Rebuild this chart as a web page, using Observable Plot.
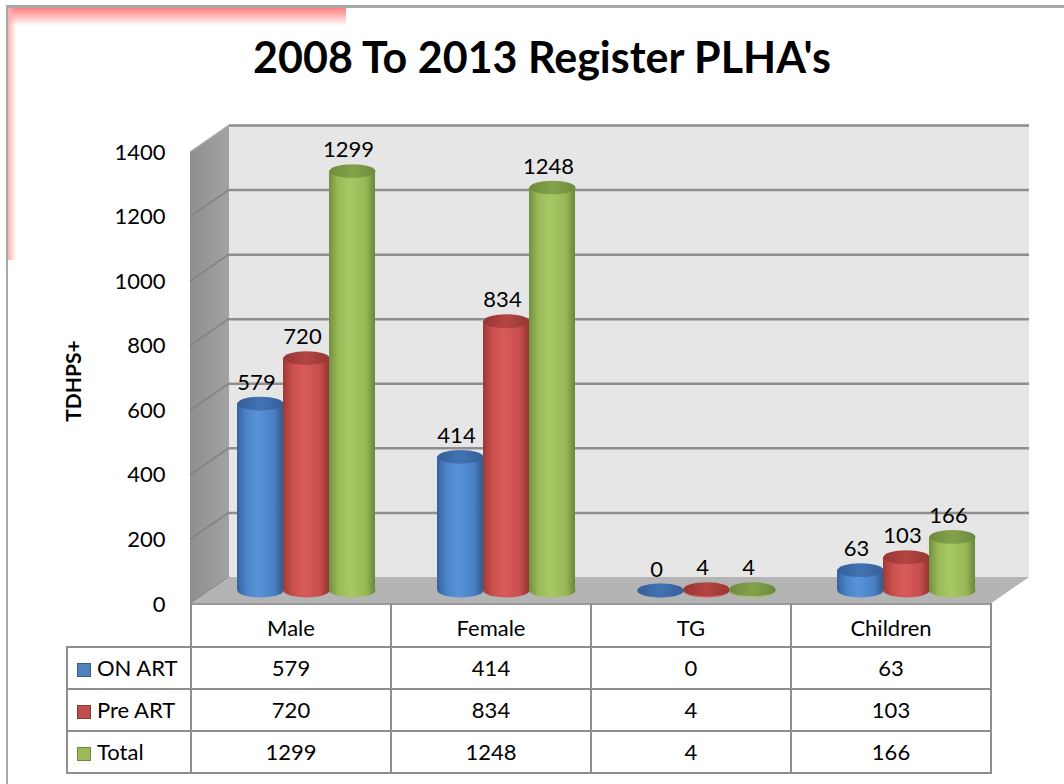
<!DOCTYPE html>
<html>
<head>
<meta charset="utf-8">
<script src="https://cdn.jsdelivr.net/npm/d3@7"></script>
<script src="https://cdn.jsdelivr.net/npm/@observablehq/plot@0.6"></script>
<style>
  html, body { margin: 0; padding: 0; background: #fff; }
  #wrap { position: relative; width: 1064px; height: 784px; overflow: hidden; font-family: Lato, "Open Sans", sans-serif; color: #000; }
  #border { position: absolute; left: 6px; top: 5px; width: 1100px; height: 900px; border-left: 2px solid #a9a9a9; border-top: 3px solid #a9a9a9; }
  #glowTop { position: absolute; left: 8px; top: 8px; width: 338px; height: 18px; background: linear-gradient(to bottom, #ff8080, rgba(255,255,255,0)); }
  #glowLeft { position: absolute; left: 8px; top: 8px; width: 8px; height: 252px; background: linear-gradient(to right, #ffb0b0, rgba(255,255,255,0)); }
  #title { position: absolute; left: 0; width: 1084px; top: 29px; text-align: center; font-weight: bold; font-size: 43px; line-height: 56px; }
  #ytitle { position: absolute; left: 72px; top: 381px; transform: translate(-50%, -50%) rotate(-90deg); font-weight: bold; font-size: 21px; white-space: nowrap; }
  #chart { position: absolute; left: 0; top: 0; }
  #tbl { position: absolute; left: 66px; top: 603px; border-collapse: collapse; table-layout: fixed; font-size: 22px; }
  #tbl td { border: 2px solid #8f8f8f; text-align: center; padding: 0; height: 40px; line-height: 22px; }
  #tbl tr.head td { border-top: none; height: 44px; padding-top: 7px; box-sizing: border-box; }
  #tbl tr.head td.blank { border-left: none; }
  #tbl td.leg { text-align: left; padding-left: 9px; white-space: nowrap; }
  .sw { display: inline-block; width: 12px; height: 12px; border: 1.5px solid; margin-right: 6px; vertical-align: -1px; }
</style>
</head>
<body>
<svg width="0" height="0" style="position:absolute">
  <defs>
    <linearGradient id="bodyBlue" x1="0" x2="1" y1="0" y2="0">
      <stop offset="0" stop-color="#35629e"/><stop offset="0.2" stop-color="#4a82c8"/><stop offset="0.45" stop-color="#5b93d8"/><stop offset="0.8" stop-color="#4a81c6"/><stop offset="1" stop-color="#32598f"/>
    </linearGradient>
    <linearGradient id="bodyRed" x1="0" x2="1" y1="0" y2="0">
      <stop offset="0" stop-color="#9e3936"/><stop offset="0.2" stop-color="#c94f4c"/><stop offset="0.45" stop-color="#d85d5a"/><stop offset="0.8" stop-color="#c84e4b"/><stop offset="1" stop-color="#923432"/>
    </linearGradient>
    <linearGradient id="bodyGreen" x1="0" x2="1" y1="0" y2="0">
      <stop offset="0" stop-color="#748f40"/><stop offset="0.2" stop-color="#98bb57"/><stop offset="0.45" stop-color="#a8c865"/><stop offset="0.8" stop-color="#96b955"/><stop offset="1" stop-color="#6c863b"/>
    </linearGradient>
    <linearGradient id="topBlue" x1="0" x2="1" y1="0" y2="0">
      <stop offset="0" stop-color="#355f98"/><stop offset="0.5" stop-color="#4173b3"/><stop offset="1" stop-color="#355f98"/>
    </linearGradient>
    <linearGradient id="topRed" x1="0" x2="1" y1="0" y2="0">
      <stop offset="0" stop-color="#983633"/><stop offset="0.5" stop-color="#b34543"/><stop offset="1" stop-color="#983633"/>
    </linearGradient>
    <linearGradient id="topGreen" x1="0" x2="1" y1="0" y2="0">
      <stop offset="0" stop-color="#6e8a3d"/><stop offset="0.5" stop-color="#83a34a"/><stop offset="1" stop-color="#6e8a3d"/>
    </linearGradient>
    <linearGradient id="sideGrad" x1="0" x2="1" y1="0" y2="0">
      <stop offset="0" stop-color="#8f8f8f"/><stop offset="1" stop-color="#a2a2a2"/>
    </linearGradient>
  </defs>
</svg>
<div id="wrap">
  <div id="border"></div>
  <div id="glowTop"></div>
  <div id="glowLeft"></div>
  <div id="chart"></div>
  <div id="title"></div>
  <div id="ytitle"></div>
  <table id="tbl"></table>
</div>
<script>
// ---- data ----
const titleText = "2008 To 2013 Register PLHA's";
const yAxisTitle = "TDHPS+";
const categories = ["Male", "Female", "TG", "Children"];
const seriesNames = ["ON ART", "Pre ART", "Total"];
const onArt  = [579, 414, 0, 63];
const preArt = [720, 834, 4, 103];
const total  = [1299, 1248, 4, 166];
const yTicks = [0, 200, 400, 600, 800, 1000, 1200, 1400];

// ---- styling ----
const seriesValues = [onArt, preArt, total];
const bodyFill = ["url(#bodyBlue)", "url(#bodyRed)", "url(#bodyGreen)"];
const topFill = ["url(#topBlue)", "url(#topRed)", "url(#topGreen)"];
const swatch = [["#4f81bd", "#385d8a"], ["#c0504d", "#8c3836"], ["#9bbb59", "#71893f"]];
const barW = 46;
const groupShift = 16;
const barDy = -14;
const DX = 39, DY = -27; // depth of back wall

const rows = [];
seriesNames.forEach((s, i) => categories.forEach((c, j) => rows.push({series: s, si: i, category: c, value: seriesValues[i][j]})));

const ellipse = {
  draw(ctx, size) {
    const rx = Math.sqrt(size / Math.PI), ry = rx * 0.3, k = 0.5523;
    ctx.moveTo(rx, 0);
    ctx.bezierCurveTo(rx, ry * k, rx * k, ry, 0, ry);
    ctx.bezierCurveTo(-rx * k, ry, -rx, ry * k, -rx, 0);
    ctx.bezierCurveTo(-rx, -ry * k, -rx * k, -ry, 0, -ry);
    ctx.bezierCurveTo(rx * k, -ry, rx, -ry * k, rx, 0);
    ctx.closePath();
  }
};

function walls(index, scales, values, dim) {
  const y = scales.y;
  const L = dim.marginLeft, R = dim.width - dim.marginRight;
  const y0 = y(yTicks[0]), yT = y(yTicks[yTicks.length - 1]);
  const g = d3.create("svg:g");
  g.append("rect").attr("x", L + DX).attr("y", yT + DY).attr("width", R - L).attr("height", y0 - yT).attr("fill", "#e6e6e6");
  g.append("polygon").attr("points", [[L, yT], [L + DX, yT + DY], [L + DX, y0 + DY], [L, y0]].join(" ")).attr("fill", "url(#sideGrad)");
  for (const t of yTicks) {
    g.append("line").attr("x1", L).attr("y1", y(t)).attr("x2", L + DX).attr("y2", y(t) + DY)
      .attr("stroke", t === yTicks[yTicks.length - 1] ? "#b0b0b0" : "#828282").attr("stroke-width", 1.5);
  }
  return g.node();
}

function floor(index, scales, values, dim) {
  const y = scales.y;
  const L = dim.marginLeft, R = dim.width - dim.marginRight;
  const y0 = y(yTicks[0]);
  const g = d3.create("svg:g");
  g.append("polygon").attr("points", [[L, y0], [L + DX, y0 + DY], [R + DX, y0 + DY], [R, y0]].join(" ")).attr("fill", "#b4b4b4");
  g.append("line").attr("x1", L).attr("y1", y0).attr("x2", R).attr("y2", y0).attr("stroke", "#9a9a9a").attr("stroke-width", 2);
  return g.node();
}

const marks = [
  walls,
  Plot.ruleY(yTicks.slice(1), {dx: DX, dy: DY, stroke: "#8e8e8e", strokeWidth: 2.5}),
  floor,
  Plot.axisY({ticks: yTicks, tickSize: 0, tickPadding: 25, label: null, fontSize: 22, tickFormat: d => String(d)})
];
seriesNames.forEach((s, i) => {
  const data = rows.filter(d => d.si === i);
  const dx = groupShift + (i - 1) * barW;
  marks.push(
    Plot.dot(data, {x: "category", y: () => 0, r: barW / 2, symbol: ellipse, fill: bodyFill[i], dx, dy: barDy}),
    Plot.barY(data, {x: "category", y: "value", fill: bodyFill[i], insetLeft: (200 - barW) / 2, insetRight: (200 - barW) / 2, dx, dy: barDy}),
    Plot.dot(data, {x: "category", y: "value", r: barW / 2, symbol: ellipse, fill: topFill[i], dx, dy: barDy}),
    Plot.text(data, {x: "category", y: "value", text: d => String(d.value), dx: dx - 4, dy: barDy - 21, fontSize: 22, fill: "#000"})
  );
});

const chart = Plot.plot({
  width: 1064,
  height: 640,
  marginLeft: 190,
  marginRight: 74,
  marginTop: 152,
  marginBottom: 36,
  style: {fontFamily: "Lato, 'Open Sans', sans-serif", fontSize: "22px", color: "#000", background: "transparent", overflow: "visible"},
  x: {type: "band", domain: categories, padding: 0, axis: null},
  y: {domain: [yTicks[0], yTicks[yTicks.length - 1]]},
  marks
});
document.getElementById("chart").appendChild(chart);
document.getElementById("title").textContent = titleText;
document.getElementById("ytitle").textContent = yAxisTitle;

// data table
const tbl = document.getElementById("tbl");
const colg = document.createElement("colgroup");
[124, 200, 200, 200, 200].forEach(w => { const c = document.createElement("col"); c.style.width = w + "px"; colg.appendChild(c); });
tbl.appendChild(colg);
const head = document.createElement("tr");
head.className = "head";
const blank = document.createElement("td"); blank.className = "blank"; head.appendChild(blank);
categories.forEach(c => { const td = document.createElement("td"); td.textContent = c; head.appendChild(td); });
tbl.appendChild(head);
seriesNames.forEach((s, i) => {
  const tr = document.createElement("tr");
  const lg = document.createElement("td"); lg.className = "leg";
  const sw = document.createElement("span"); sw.className = "sw";
  sw.style.background = swatch[i][0]; sw.style.borderColor = swatch[i][1];
  lg.appendChild(sw); lg.appendChild(document.createTextNode(s));
  tr.appendChild(lg);
  seriesValues[i].forEach(v => { const td = document.createElement("td"); td.textContent = String(v); tr.appendChild(td); });
  tbl.appendChild(tr);
});
</script>
</body>
</html>
